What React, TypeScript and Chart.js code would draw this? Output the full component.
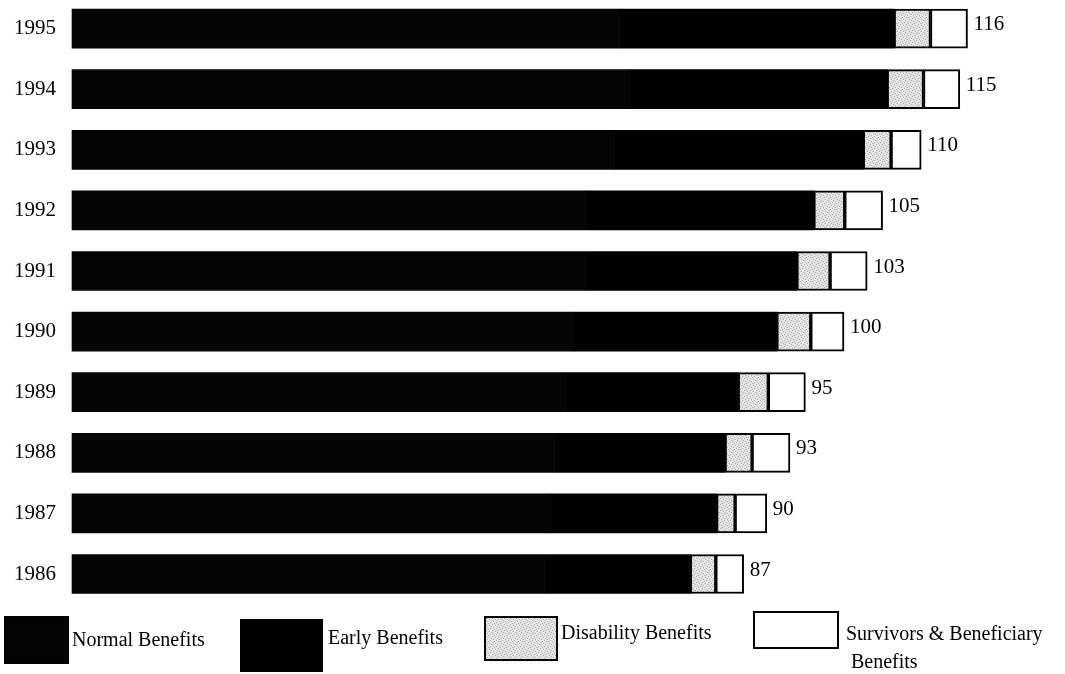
import React, { useEffect, useRef } from "react";
import { Chart, registerables } from "chart.js";

Chart.register(...registerables);

// Benefit outlays by year, stacked by benefit type
const years = ["1995", "1994", "1993", "1992", "1991", "1990", "1989", "1988", "1987", "1986"];
const normalBenefits = [71, 72.3, 70.3, 66.7, 66.6, 65, 64, 62.5, 62, 61.2];
const earlyBenefits = [35.5, 33.3, 32.2, 29.4, 27.3, 26.3, 22.3, 22.1, 21.5, 18.9];
const disabilityBenefits = [4.7, 4.7, 3.6, 4.0, 4.3, 4.4, 3.9, 3.5, 2.4, 3.3];
const survivorsBenefits = [4.8, 4.7, 3.9, 4.9, 4.8, 4.3, 4.8, 4.9, 4.1, 3.6];
const totals = [116, 115, 110, 105, 103, 100, 95, 93, 90, 87];

const seriesNames = [
  "Normal Benefits",
  "Early Benefits",
  "Disability Benefits",
  "Survivors & Beneficiary\nBenefits",
];

const SERIF = "'Liberation Serif', 'Times New Roman', serif";

// Light gray stipple used for disability benefits
function makeStipple(): CanvasPattern | string {
  const c = document.createElement("canvas");
  c.width = 6;
  c.height = 6;
  const g = c.getContext("2d");
  if (!g) return "#d2d2d2";
  g.fillStyle = "#e4e4e4";
  g.fillRect(0, 0, 6, 6);
  g.fillStyle = "#a8a8a8";
  const dots = [[0, 0], [3, 1], [1, 3], [4, 4], [5, 2], [2, 5]];
  dots.forEach(([x, y]) => g.fillRect(x, y, 1, 1));
  const p = g.createPattern(c, "repeat");
  return p || "#d2d2d2";
}

// Total value printed just past the end of each stacked bar
const totalLabels = {
  id: "totalLabels",
  afterDatasetsDraw(chart: any) {
    const ctx = chart.ctx;
    const last = chart.getDatasetMeta(chart.data.datasets.length - 1);
    ctx.save();
    ctx.font = `21px ${SERIF}`;
    ctx.fillStyle = "#000";
    ctx.textAlign = "left";
    ctx.textBaseline = "middle";
    last.data.forEach((bar: any, i: number) => {
      ctx.fillText(String(totals[i]), bar.x + 6, bar.y - 4);
    });
    ctx.restore();
  },
};

// Legend row along the bottom of the canvas
const bottomLegend = {
  id: "bottomLegend",
  afterDraw(chart: any) {
    const ctx = chart.ctx;
    const items = [
      { box: [5, 617, 63, 46], text: [72, 641] },
      { box: [241, 620, 81, 51], text: [328, 639] },
      { box: [485, 617, 72, 43], text: [561, 634] },
      { box: [754, 612, 84, 36], text: [846, 635] },
    ];
    ctx.save();
    ctx.font = `20px ${SERIF}`;
    ctx.textBaseline = "middle";
    ctx.textAlign = "left";
    items.forEach((it, i) => {
      const ds = chart.data.datasets[i];
      const [x, y, w, h] = it.box;
      ctx.fillStyle = ds.backgroundColor;
      ctx.fillRect(x, y, w, h);
      ctx.lineWidth = 2;
      ctx.strokeStyle = "#000";
      ctx.strokeRect(x, y, w, h);
      ctx.fillStyle = "#000";
      const lines = seriesNames[i].split("\n");
      lines.forEach((ln, k) => {
        ctx.fillText(ln, it.text[0] + k * 5, it.text[1] + k * 28);
      });
    });
    ctx.restore();
  },
};

export default function App() {
  const ref = useRef<HTMLCanvasElement | null>(null);

  useEffect(() => {
    if (!ref.current) return;
    const stipple = makeStipple();
    const chart = new Chart(ref.current, {
      type: "bar",
      data: {
        labels: years,
        datasets: [
          {
            label: seriesNames[0],
            data: normalBenefits,
            backgroundColor: "#050505",
            borderWidth: 0,
          },
          {
            label: seriesNames[1],
            data: earlyBenefits,
            backgroundColor: "#000000",
            borderWidth: 0,
          },
          {
            label: seriesNames[2],
            data: disabilityBenefits,
            backgroundColor: stipple as any,
            borderColor: "#000",
            borderWidth: 2,
            borderSkipped: false,
          },
          {
            label: seriesNames[3],
            data: survivorsBenefits,
            backgroundColor: "#ffffff",
            borderColor: "#000",
            borderWidth: 2,
            borderSkipped: false,
          },
        ],
      },
      options: {
        indexAxis: "y",
        responsive: false,
        animation: false,
        layout: { padding: { top: 7, bottom: 100, left: 0, right: 28 } },
        datasets: { bar: { barThickness: 39, clip: false as any } },
        plugins: {
          legend: { display: false },
          tooltip: { enabled: false },
        },
        scales: {
          x: {
            stacked: true,
            min: 0,
            max: 125,
            display: false,
          },
          y: {
            stacked: true,
            offset: false,
            grid: { display: false, drawTicks: false },
            border: { display: false },
            ticks: {
              color: "#000",
              padding: 16,
              font: { family: SERIF, size: 21 },
            },
            afterFit(scale: any) {
              scale.width = 72;
            },
          },
        },
      },
      plugins: [totalLabels, bottomLegend],
    });
    return () => chart.destroy();
  }, []);

  return (
    <div style={{ position: "absolute", left: 0, top: 0, width: 1065, height: 674, background: "#fff" }}>
      <canvas ref={ref} width={1065} height={674} />
    </div>
  );
}
